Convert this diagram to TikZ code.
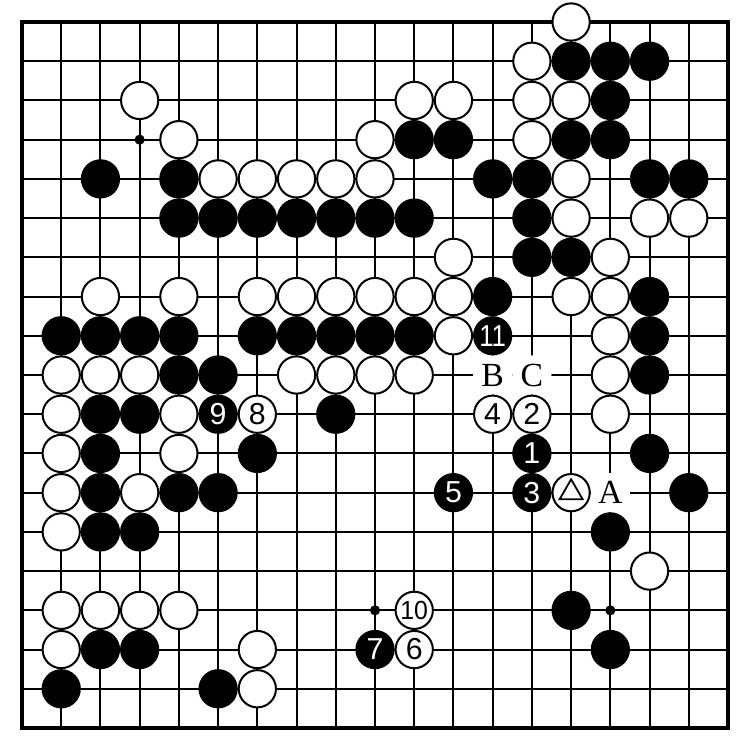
\documentclass[tikz,border=0pt]{standalone}
\usepackage{fontspec}
\usepackage{graphicx}
\newfontfamily\numfam{Liberation Sans}
\newfontfamily\letfam{Liberation Serif}
\newcommand{\numone}{\numfam\fontsize{22}{22}\selectfont}
\newcommand{\numtwo}{\numfam\fontsize{19}{19}\selectfont}
\newcommand{\numeleven}{\numfam\fontsize{22}{22}\selectfont}
\newcommand{\letsz}{\letfam\fontsize{24.5}{24.5}\selectfont}
\newcommand{\twodig}[2]{\scalebox{#1}[1]{#2}}
\tikzset{
  gridline/.style={line width=1.45pt},
  border/.style={line width=2.4pt},
  stardot/.style={fill=black},
  bstone/.style={circle, fill=black, draw=black, line width=1.45pt, minimum size=0.95cm, inner sep=0pt},
  wstone/.style={circle, fill=white, draw=black, line width=1.45pt, minimum size=0.95cm, inner sep=0pt},
  bnum/.style={bstone, text=white, font=\numone},
  wnum/.style={wstone, text=black, font=\numone},
  bnumtwo/.style={bstone, text=white, font=\numeleven},
  wnumtwo/.style={wstone, text=black, font=\numtwo},
  lbl/.style={circle, fill=white, minimum size=1.0cm, inner sep=0pt, font=\letsz},
  trimark/.style={line width=1.3pt, line join=miter},
}
\begin{document}
\begin{tikzpicture}
\useasboundingbox[fill=white] (-0.561,0.561) rectangle (18.561,-18.561);
% board grid
\draw[gridline] (0,0) grid (18,-18);
\draw[border] (0,0) rectangle (18,-18);
% star points
\foreach \c/\r in {3/3,9/3,15/3,3/9,9/9,15/9,3/15,9/15,15/15}
  \fill[stardot] (\c,-\r) circle (0.13);
% letter labels (erase grid lines round them)
\node[lbl] (lA) at (15,-12) {A};
\node[lbl] (lB) at (12,-9) {B};
\node[lbl] (lC) at (13,-9) {C};
% black stones
\foreach \c/\r in {14/1,15/1,16/1,
  15/2,
  10/3,11/3,14/3,15/3,
  2/4,4/4,12/4,13/4,16/4,17/4,
  4/5,5/5,6/5,7/5,8/5,9/5,10/5,13/5,
  13/6,14/6,
  12/7,16/7,
  1/8,2/8,3/8,4/8,6/8,7/8,8/8,9/8,10/8,16/8,
  4/9,5/9,16/9,
  2/10,3/10,8/10,
  2/11,6/11,16/11,
  2/12,4/12,5/12,17/12,
  2/13,3/13,15/13,
  14/15,
  2/16,3/16,15/16,
  1/17,5/17}
  \node[bstone] (b-\c-\r) at (\c,-\r) {};
% white stones
\foreach \c/\r in {14/0,
  13/1,
  3/2,10/2,11/2,13/2,14/2,
  4/3,9/3,13/3,
  5/4,6/4,7/4,8/4,9/4,14/4,
  14/5,16/5,17/5,
  11/6,15/6,
  2/7,4/7,6/7,7/7,8/7,9/7,10/7,11/7,14/7,15/7,
  11/8,15/8,
  1/9,2/9,3/9,7/9,8/9,9/9,10/9,15/9,
  1/10,4/10,15/10,
  1/11,4/11,
  1/12,3/12,
  1/13,
  16/14,
  1/15,2/15,3/15,4/15,
  1/16,6/16,
  6/17}
  \node[wstone] (w-\c-\r) at (\c,-\r) {};
% numbered stones
\node[bnum] (m1) at (13,-11) {1};
\node[wnum] (m2) at (13,-10) {2};
\node[bnum] (m3) at (13,-12) {3};
\node[wnum] (m4) at (12,-10) {4};
\node[bnum] (m5) at (11,-12) {5};
\node[wnum] (m6) at (10,-16) {6};
\node[bnum] (m7) at (9,-16) {7};
\node[wnum] (m8) at (6,-10) {8};
\node[bnum] (m9) at (5,-10) {9};
\node[wnumtwo] (m10) at (10,-15) {\twodig{0.95}{10}};
\node[bnumtwo] (m11) at (12,-8) {\twodig{0.85}{11}};
% marked stone
\node[wstone] (tri) at (14,-12) {};
\draw[trimark] ([shift={(90:0.34)}]tri.center) -- ([shift={(210:0.34)}]tri.center) -- ([shift={(330:0.34)}]tri.center) -- cycle;
\end{tikzpicture}
\end{document}
